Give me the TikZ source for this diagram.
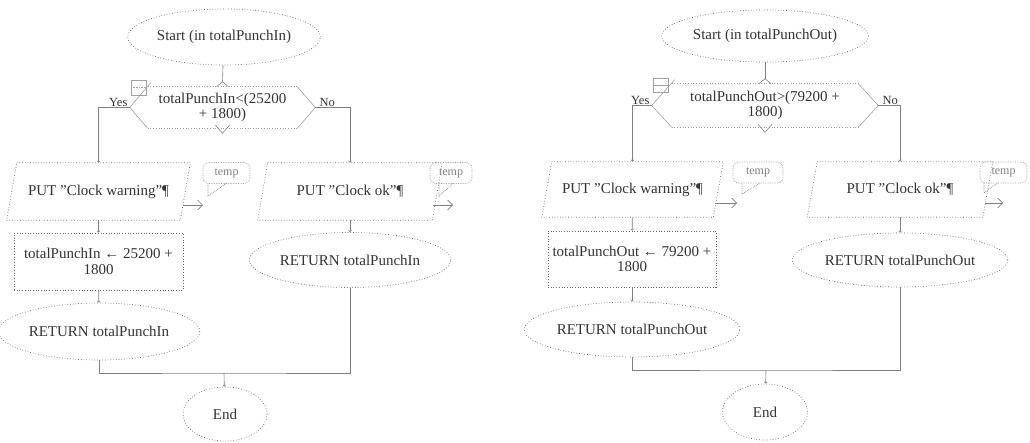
\documentclass[tikz,border=0pt]{standalone}
\usepackage{fontspec}
\setmainfont{Liberation Serif}
\usetikzlibrary{shapes.geometric,arrows.meta,positioning}
\definecolor{inkgray}{HTML}{333333}
\definecolor{linegray}{HTML}{808080}
\definecolor{boxgray}{HTML}{666666}
\definecolor{hexgray}{HTML}{A0A0A0}
\newcommand{\qt}{\char"22\relax}
\begin{document}
\begin{tikzpicture}[x=1pt, y=-1pt, line width=0.6pt,
  every node/.style={text=inkgray, font=\fontsize{15}{15.5}\selectfont, inner sep=1pt},
  outline/.style={draw=boxgray, dotted, line width=0.7pt},
  terminal/.style={ellipse, outline},
  holder/.style={rectangle, align=center},
  assign/.style={rectangle, outline, align=center},
  bubble/.style={rectangle, rounded corners=6pt, draw=hexgray, densely dotted, line width=0.7pt,
    minimum height=21, text=gray, font=\fontsize{12}{12}\selectfont},
  tail/.style={draw=gray, densely dotted, line width=0.7pt},
  flow/.style={draw=linegray, -{Straight Barb[length=1.5pt,width=3pt]}},
  wire/.style={draw=linegray},
  branch/.style={font=\fontsize{12.5}{12.5}\selectfont, inner sep=0pt, anchor=south east},
  outarrow/.style={draw=linegray, -{Straight Barb[length=5pt,width=10pt]}}]
  \useasboundingbox (0,0) rectangle (1030,442);

  % totalPunchIn
  \node[terminal, minimum width=172, minimum height=56] (start1) at (224,37) {Start (in totalPunchIn)};
  \node[holder, minimum width=185, minimum height=41] (dec1) at (222.5,107.5) {totalPunchIn<(25200\\+ 1800)};
  \node[holder, minimum width=173, minimum height=57] (put1) at (98.5,191.5) {PUT \qt Clock warning\qt¶};
  \node[assign, minimum width=169, minimum height=57] (asg1) at (98.5,261.5) {totalPunchIn ← 25200 +\\1800};
  \node[terminal, minimum width=168, minimum height=57] (ret1a) at (99,331.5) {RETURN totalPunchIn};
  \node[holder, minimum width=174, minimum height=57] (put1b) at (350,191.5) {PUT \qt Clock ok\qt¶};
  \node[terminal, minimum width=170, minimum height=55] (ret1b) at (350,260) {RETURN totalPunchIn};
  \node[terminal, minimum width=84, minimum height=54] (end1) at (225,414) {End};
  \coordinate (join1) at (224,373);
  \coordinate (out1) at (183,205);
  \coordinate (out1b) at (433,205);

  \draw[outline] ([xshift=5pt]put1.north west) -- ([xshift=5pt]put1.north east)
    -- ([xshift=-5pt]put1.south east) -- ([xshift=-5pt]put1.south west) -- cycle;
  \draw[outline] ([xshift=5pt]put1b.north west) -- ([xshift=5pt]put1b.north east)
    -- ([xshift=-5pt]put1b.south east) -- ([xshift=-5pt]put1b.south west) -- cycle;
  \draw[hexgray, dotted, line width=0.7pt] ([xshift=18pt]dec1.north west) -- ([xshift=-18pt]dec1.north east);
  \draw[hexgray, dotted, line width=0.7pt] ([xshift=18pt]dec1.south west) -- ([xshift=-18pt]dec1.south east);
  \draw[hexgray] ([xshift=21pt,yshift=4pt]dec1.north west) -- (dec1.west) -- ([xshift=18pt]dec1.south west);
  \draw[hexgray] ([xshift=-18pt]dec1.north east) -- (dec1.east) -- ([xshift=-18pt]dec1.south east);
  \draw[hexgray] (131,80) rectangle (146,95);
  \draw[hexgray, densely dotted] (131,87.5) -- (146,87.5);

  \node[bubble, minimum width=47] (bub1) at (226.5,173) {temp};
  \node[bubble, minimum width=42] (bub1b) at (451,173) {temp};
  \draw[tail] (208,183.5) -- (208,196) -- (226,183.5);
  \draw[tail] (439,183.5) -- (439,196) -- (453,183.5);

  \draw[wire] (start1) -- ([yshift=5pt]dec1.north);
  \draw[wire] ([xshift=-6pt]dec1.north) -- ([yshift=5pt]dec1.north) -- ([xshift=6pt]dec1.north);
  \draw[wire] ([xshift=-7pt,yshift=3pt]dec1.south) -- ([yshift=-5pt]dec1.south) -- ([xshift=7pt,yshift=3pt]dec1.south);
  \draw[flow] (dec1.west) -| (put1.north);
  \draw[flow] (dec1.east) -| (put1b.north);
  \node[branch] at ([xshift=-2pt,yshift=1pt]dec1.west) {Yes};
  \node[branch, anchor=south west] at ([xshift=4pt,yshift=1pt]dec1.east) {No};
  \draw[flow] (put1) -- (asg1);
  \draw[flow] (asg1) -- (ret1a);
  \draw[flow] (put1b) -- (ret1b);
  \draw[wire] (ret1a.south) |- (join1) -| (ret1b.south);
  \draw[flow] (join1) -- (end1);
  \draw[outarrow] (out1) -- ++(20,0);
  \draw[outarrow] (out1b) -- ++(20,0);

  % totalPunchOut
  \node[terminal, minimum width=170, minimum height=52] (start2) at (765,36) {Start (in totalPunchOut)};
  \node[holder, minimum width=226, minimum height=43] (dec2) at (765,105.5) {totalPunchOut>(79200 +\\1800)};
  \node[holder, minimum width=171, minimum height=55] (put2) at (632.5,189.5) {PUT \qt Clock warning\qt¶};
  \node[assign, minimum width=168, minimum height=56] (asg2) at (632,259) {totalPunchOut ← 79200 +\\1800};
  \node[terminal, minimum width=170, minimum height=55] (ret2a) at (632,329.5) {RETURN totalPunchOut};
  \node[holder, minimum width=175, minimum height=55] (put2b) at (900,189.5) {PUT \qt Clock ok\qt¶};
  \node[terminal, minimum width=166, minimum height=54] (ret2b) at (900,260) {RETURN totalPunchOut};
  \node[terminal, minimum width=85, minimum height=56] (end2) at (765,412) {End};
  \coordinate (join2) at (766,370);
  \coordinate (out2) at (715,203);
  \coordinate (out2b) at (985,203);

  \draw[outline] ([xshift=5pt]put2.north west) -- ([xshift=5pt]put2.north east)
    -- ([xshift=-5pt]put2.south east) -- ([xshift=-5pt]put2.south west) -- cycle;
  \draw[outline] ([xshift=5pt]put2b.north west) -- ([xshift=5pt]put2b.north east)
    -- ([xshift=-5pt]put2b.south east) -- ([xshift=-5pt]put2b.south west) -- cycle;
  \draw[hexgray, dotted, line width=0.7pt] ([xshift=20pt]dec2.north west) -- ([xshift=-20pt]dec2.north east);
  \draw[hexgray, dotted, line width=0.7pt] ([xshift=20pt]dec2.south west) -- ([xshift=-20pt]dec2.south east);
  \draw[hexgray] ([xshift=23pt,yshift=4pt]dec2.north west) -- (dec2.west) -- ([xshift=20pt]dec2.south west);
  \draw[hexgray] ([xshift=-20pt]dec2.north east) -- (dec2.east) -- ([xshift=-20pt]dec2.south east);
  \draw[hexgray] (653,78) rectangle (668,92);
  \draw[hexgray] (653,85) -- (668,85);

  \node[bubble, minimum width=50] (bub2) at (758,172.5) {temp};
  \node[bubble, minimum width=47] (bub2b) at (1003.5,172.5) {temp};
  \draw[tail] (742,183) -- (742,194) -- (760,183);
  \draw[tail] (984,183) -- (984,193) -- (998,183);

  \draw[wire] (start2) -- ([yshift=5pt]dec2.north);
  \draw[wire] ([xshift=-6pt]dec2.north) -- ([yshift=5pt]dec2.north) -- ([xshift=6pt]dec2.north);
  \draw[wire] ([xshift=-7pt,yshift=3pt]dec2.south) -- ([yshift=-5pt]dec2.south) -- ([xshift=7pt,yshift=3pt]dec2.south);
  \draw[flow] (dec2.west) -| (put2.north);
  \draw[flow] (dec2.east) -| (put2b.north);
  \node[branch] at ([xshift=-2pt,yshift=1pt]dec2.west) {Yes};
  \node[branch, anchor=south west] at ([xshift=4pt,yshift=1pt]dec2.east) {No};
  \draw[flow] (put2) -- (asg2);
  \draw[flow] (asg2) -- (ret2a);
  \draw[flow] (put2b) -- (ret2b);
  \draw[wire] (ret2a.south) |- (join2) -| (ret2b.south);
  \draw[flow] (join2) -- (end2);
  \draw[outarrow] (out2) -- ++(22,0);
  \draw[outarrow] (out2b) -- ++(18,0);
\end{tikzpicture}
\end{document}
